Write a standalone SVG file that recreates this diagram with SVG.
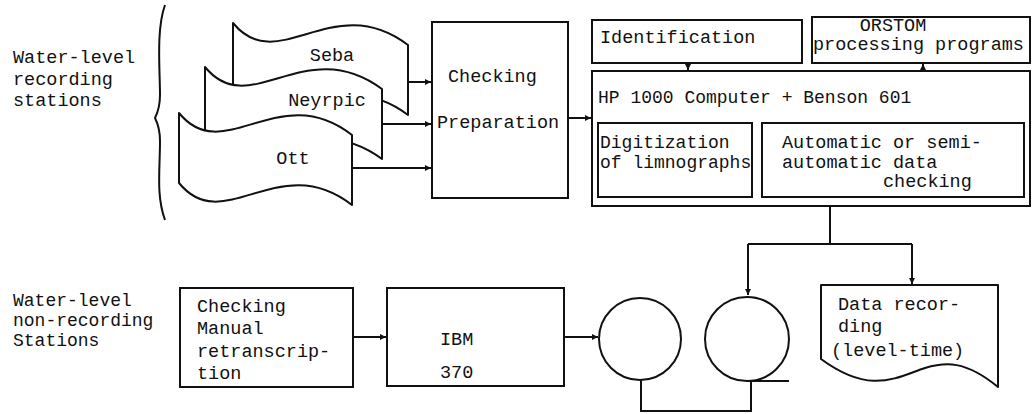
<svg xmlns="http://www.w3.org/2000/svg" width="1033" height="414" viewBox="0 0 1033 414">
<style>
.box{fill:#fff;stroke:#111;stroke-width:2}
.page{fill:#fff;stroke:#111;stroke-width:2;stroke-linejoin:round}
.ln{fill:none;stroke:#111;stroke-width:2}
text{font-family:"Liberation Mono","Courier New",monospace;font-size:18.5px;fill:#111}
.sm{font-size:18px}
</style>
<defs>
<marker id="ah" viewBox="0 0 10 10" refX="10" refY="5" markerWidth="7" markerHeight="6" markerUnits="userSpaceOnUse" orient="auto">
<path d="M0,0 L10,5 L0,10 Z" fill="#111"/>
</marker>
</defs>
<rect width="1033" height="414" fill="#fff"/>

<g id="label-recording">
<text x="13" y="63">Water-level</text>
<text x="13" y="85">recording</text>
<text x="13" y="106">stations</text>
<path class="ln" d="M165,5 C156,30 160,70 160,95 C160,108 157,114 155,118 C157,122 160,128 160,141 C160,170 156,195 165,220" stroke-width="2.5"/>
</g>

<g id="seba">
<path class="page" d="M233,23 C278,78 333,-12 408,45 L408,115 C333,58 278,148 233,93 Z"/>
<text x="332" y="61" text-anchor="middle">Seba</text>
</g>
<g id="neyrpic">
<path class="page" d="M205,67 C250,122 305,32 382,89 L382,159 C305,102 250,192 205,137 Z"/>
<text x="327" y="106" text-anchor="middle">Neyrpic</text>
</g>
<g id="ott">
<path class="page" d="M179,113 C224,168 279,78 352,135 L352,205 C279,148 224,238 179,183 Z"/>
<text x="293" y="164" text-anchor="middle">Ott</text>
</g>

<g id="checking">
<rect class="box" x="432" y="22" width="136" height="176"/>
<text x="448" y="82">Checking</text>
<text x="437" y="128">Preparation</text>
</g>

<g id="identification">
<rect class="box" x="592" y="20" width="210" height="43"/>
<text x="600" y="43">Identification</text>
</g>

<g id="orstom">
<rect class="box" x="812" y="17" width="218" height="46"/>
<text x="893" y="31" text-anchor="middle">ORSTOM</text>
<text x="813" y="50">processing programs</text>
</g>

<g id="hp">
<rect class="box" x="592" y="71" width="438" height="135"/>
<text x="598" y="103" class="sm">HP 1000 Computer + Benson 601</text>
</g>
<g id="digitization">
<rect class="box" x="598" y="123" width="154" height="74"/>
<text x="600" y="148" class="sm">Digitization</text>
<text x="600" y="168" class="sm">of limnographs</text>
</g>
<g id="automatic">
<rect class="box" x="762" y="123" width="262" height="74"/>
<text x="782" y="148">Automatic or semi-</text>
<text x="782" y="168">automatic data</text>
<text x="883" y="187">checking</text>
</g>

<g id="label-nonrecording">
<text x="13" y="306" class="sm">Water-level</text>
<text x="13" y="326" class="sm">non-recording</text>
<text x="13" y="346" class="sm">Stations</text>
</g>

<g id="manual">
<rect class="box" x="180" y="288" width="173" height="99"/>
<text x="197" y="312">Checking</text>
<text x="197" y="334">Manual</text>
<text x="197" y="357">retranscrip-</text>
<text x="197" y="379">tion</text>
</g>

<g id="ibm">
<rect class="box" x="387" y="288" width="177" height="98"/>
<text x="440" y="345">IBM</text>
<text x="440" y="378">370</text>
</g>

<g id="disk1">
<circle class="box" cx="640" cy="339" r="41"/>
</g>
<g id="tape2">
<circle class="box" cx="747" cy="339" r="42"/>
<line class="ln" x1="747" y1="381" x2="789" y2="381"/>
</g>

<g id="datarecording">
<path class="page" d="M821,285 L998,285 L998,387 C965,360 945,362 925,368 C895,378 870,395 821,359 Z"/>
<text x="838" y="310">Data recor-</text>
<text x="838" y="332">ding</text>
<text x="831" y="356">(level-time)</text>
</g>

<g id="connectors">
<line class="ln" x1="408" y1="82" x2="431" y2="82" marker-end="url(#ah)"/>
<line class="ln" x1="382" y1="124" x2="431" y2="124" marker-end="url(#ah)"/>
<line class="ln" x1="352" y1="168" x2="431" y2="168" marker-end="url(#ah)"/>
<line class="ln" x1="568" y1="118" x2="591" y2="118" marker-end="url(#ah)"/>
<line class="ln" x1="688" y1="63" x2="688" y2="70" marker-end="url(#ah)"/>
<line class="ln" x1="923" y1="71" x2="923" y2="64" marker-end="url(#ah)"/>
<polyline class="ln" points="830,206 830,244"/>
<polyline class="ln" points="748,244 912,244"/>
<line class="ln" x1="748" y1="244" x2="748" y2="295" marker-end="url(#ah)"/>
<line class="ln" x1="912" y1="244" x2="912" y2="284" marker-end="url(#ah)"/>
<line class="ln" x1="353" y1="337" x2="386" y2="337" marker-end="url(#ah)"/>
<line class="ln" x1="564" y1="337" x2="598" y2="337" marker-end="url(#ah)"/>
<polyline class="ln" points="641,380 641,411 751,411 751,381"/>
</g>
</svg>
